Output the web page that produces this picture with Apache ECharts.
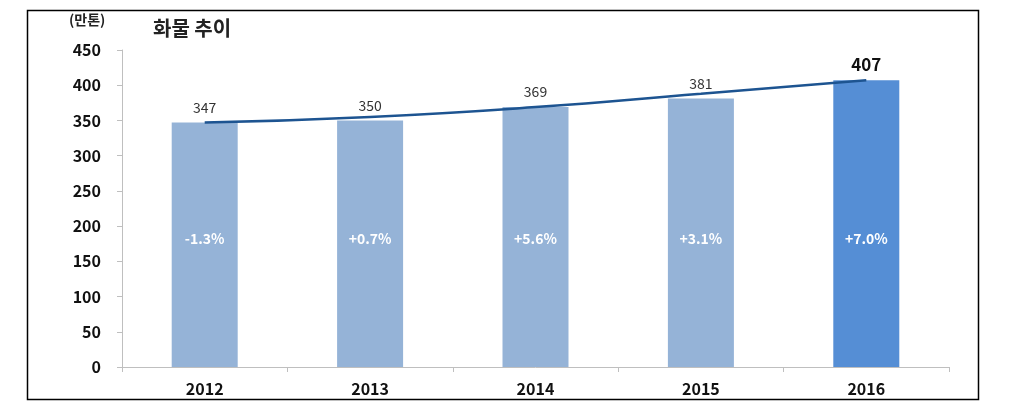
<!DOCTYPE html>
<html><head><meta charset="utf-8">
<script src="https://cdn.jsdelivr.net/npm/echarts@6/dist/echarts.min.js"></script>
<style>html,body{margin:0;padding:0;background:#fff}#c{width:1024px;height:412px}</style>
</head><body><div id="c"></div>
<script>
const categories = ['2012','2013','2014','2015','2016'];
const volumes = [347, 350, 369, 381, 407];
const growth = ['-1.3%','+0.7%','+5.6%','+3.1%','+7.0%'];
const trend = [347, 355, 369, 388, 407];
const yTicks = [0, 50, 100, 150, 200, 250, 300, 350, 400, 450];

const FONT = '"Noto Sans CJK KR", "Noto Sans", sans-serif';
const chart = echarts.init(document.getElementById('c'));
const last = volumes.length - 1;
chart.setOption({
  animation: false,
  textStyle: { fontFamily: FONT },
  graphic: [
    { type: 'rect', shape: { x: 27.5, y: 10.5, width: 951, height: 389 },
      style: { fill: 'none', stroke: '#000', lineWidth: 1.5 }, z: 100 },
    { type: 'text', left: 69, top: 13,
      style: { text: '(만톤)', font: 'bold 14px ' + FONT, fill: '#222' } },
    { type: 'text', left: 153, top: 18,
      style: { text: '화물 추이', font: 'bold 20px ' + FONT, fill: '#222' } }
  ],
  grid: { left: 122, right: 75, top: 50, bottom: 45 },
  xAxis: {
    type: 'category', data: categories,
    axisLine: { lineStyle: { color: '#bfbfbf', width: 1 } },
    axisTick: { show: true, length: 5, lineStyle: { color: '#bfbfbf' } },
    axisLabel: { color: '#111', fontWeight: 'bold', fontSize: 16, margin: 14, fontFamily: FONT }
  },
  yAxis: {
    type: 'value', min: yTicks[0], max: yTicks[yTicks.length - 1], interval: 50,
    axisLine: { show: true, lineStyle: { color: '#bfbfbf' } },
    axisTick: { show: true, length: 5, lineStyle: { color: '#bfbfbf' } },
    splitLine: { show: false },
    axisLabel: { color: '#111', fontWeight: 'bold', fontSize: 16, margin: 21, fontFamily: FONT }
  },
  series: [
    {
      type: 'bar', barWidth: 66,
      data: volumes.map((v, i) => ({
        value: v,
        itemStyle: { color: i === last ? '#558ed5' : '#95b3d7' },
        label: {
          show: true, position: 'top', distance: i === last ? 7 : 8,
          formatter: String(v),
          color: i === last ? '#111' : '#333',
          fontSize: i === last ? 17 : 14,
          fontWeight: i === last ? 'bold' : 'normal',
          fontFamily: FONT
        }
      })),
      z: 2
    },
    {
      type: 'bar', barWidth: 66, barGap: '-100%',
      data: volumes.map((v, i) => ({ value: v, itemStyle: { color: 'transparent' } })),
      label: {
        show: true, position: 'insideBottom', distance: 121,
        formatter: p => growth[p.dataIndex],
        color: '#fff', fontWeight: 'bold', fontSize: 14, fontFamily: FONT
      },
      silent: true, z: 3
    },
    {
      type: 'line', data: trend, smooth: true, symbol: 'none',
      lineStyle: { color: '#1d5491', width: 2.5 }, z: 5
    }
  ]
});
</script></body></html>
